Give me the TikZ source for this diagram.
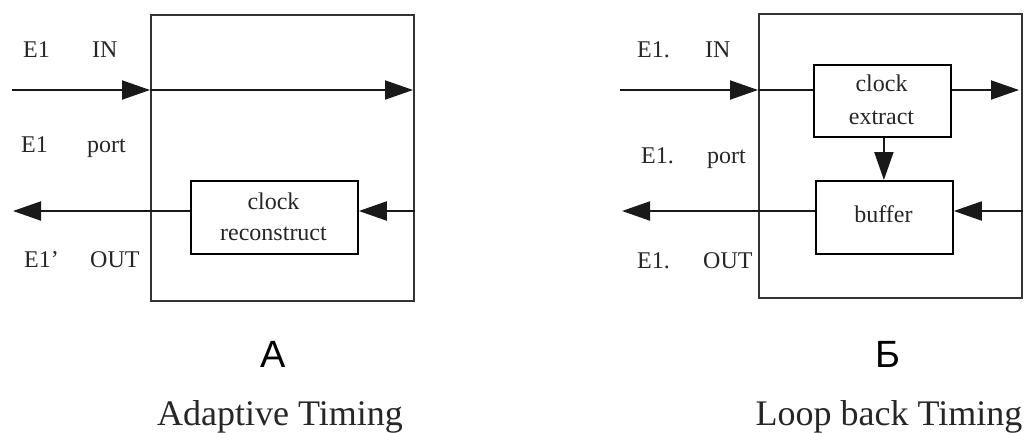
\documentclass[tikz,border=0pt]{standalone}
\usepackage{fontspec}
\setmainfont{Liberation Serif}
\newfontfamily\letterfont{Liberation Sans}
\usetikzlibrary{arrows.meta}
\begin{document}
\begin{tikzpicture}[x=1pt,y=-1pt,
  lbl/.style={inner sep=0pt, anchor=base west, text=black!85, font=\fontsize{24}{30}\selectfont},
  outer/.style={draw=black!80, line width=2pt, anchor=north west, inner sep=0pt},
  inner/.style={draw=black, line width=1.8pt, anchor=north west, inner sep=0pt, align=center, text=black!85, font=\fontsize{24}{31}\selectfont},
  conn/.style={line width=2pt, draw=black!90},
  arr/.style={conn, -{Triangle[length=28pt,width=19pt]}},
  big/.style={inner sep=0pt, anchor=base, font=\letterfont\fontsize{38}{40}\selectfont},
  captext/.style={inner sep=0pt, anchor=base, text=black!85, font=\fontsize{36}{40}\selectfont}]
\useasboundingbox (0,0) rectangle (1029,432);
% ---------- A: Adaptive Timing ----------
\node[outer, minimum width=263pt, minimum height=286pt] (boxA) at (150,14) {};
\node[inner, minimum width=167pt, minimum height=73pt] (recon) at (190,180) {};
\node[inner sep=0pt, align=center, text=black!85, font=\fontsize{24}{31}\selectfont] (recontext) at (273.5,216.5) {clock\\reconstruct};
\node[lbl] (a1) at (23,57) {E1};
\node[lbl] (a2) at (92,57) {IN};
\node[lbl] (a3) at (21,152) {E1};
\node[lbl] (a4) at (87,152) {port};
\node[lbl] (a5) at (24,267) {E1'};
\node[lbl] (a6) at (90,267) {OUT};
\coordinate (inA) at (12,90);
\coordinate (outA) at (13,211);
\draw[arr] (inA) -- (inA -| boxA.west);
\draw[arr] (inA -| boxA.west) -- ([xshift=-2pt]inA -| boxA.east);
\draw[arr] (outA -| boxA.east) -- (outA -| recon.east);
\draw[arr] (outA -| recon.west) -- (outA);
\node[big] (labA) at (273,367) {А};
\node[captext] (capA) at (280,425) {Adaptive Timing};
% ---------- Б: Loop back Timing ----------
\node[outer, minimum width=263pt, minimum height=284pt] (boxB) at (758,13) {};
\node[inner, minimum width=137pt, minimum height=72pt] (extract) at (813,64) {};
\node[inner sep=0pt, align=center, text=black!85, font=\fontsize{24}{33}\selectfont] (extracttext) at (881.5,100) {clock\\extract};
\node[inner, minimum width=137pt, minimum height=73pt] (buffer) at (815,180) {};
\node[inner sep=0pt, anchor=base, text=black!85, font=\fontsize{24}{30}\selectfont] (buffertext) at (883.5,222) {buffer};
\node[lbl] (b1) at (637,57) {E1.};
\node[lbl] (b2) at (705,57) {IN};
\node[lbl] (b3) at (641,163) {E1.};
\node[lbl] (b4) at (707,163) {port};
\node[lbl] (b5) at (637,268) {E1.};
\node[lbl] (b6) at (703,268) {OUT};
\coordinate (inB) at (620,90);
\coordinate (outB) at (622,211);
\draw[arr] (inB) -- (inB -| boxB.west);
\draw[conn] (inB -| boxB.west) -- (inB -| extract.west);
\draw[arr] (inB -| extract.east) -- ([xshift=-4pt]inB -| boxB.east);
\draw[arr] ([xshift=1.5pt]extract.south) -- ([xshift=1.5pt]extract.south |- buffer.north);
\draw[arr] (outB -| boxB.east) -- (outB -| buffer.east);
\draw[arr] (outB -| buffer.west) -- (outB);
\node[big] (labB) at (888,367) {Б};
\node[captext] (capB) at (889,425) {Loop back Timing};
\end{tikzpicture}
\end{document}
